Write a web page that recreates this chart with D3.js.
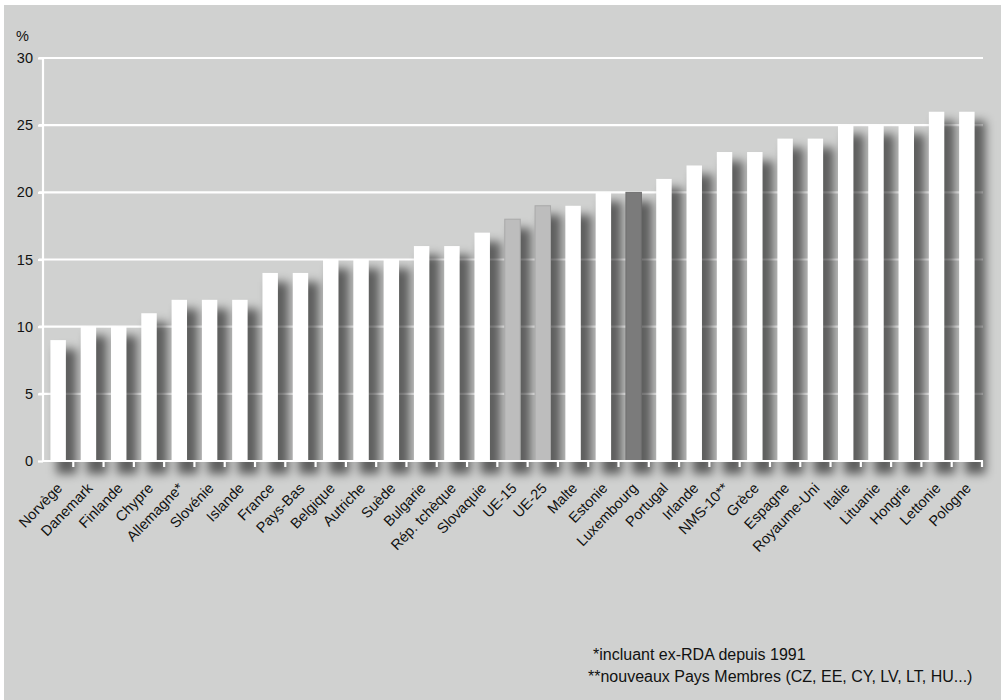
<!DOCTYPE html>
<html>
<head>
<meta charset="utf-8">
<script src="https://cdn.jsdelivr.net/npm/d3@7"></script>
<style>
  html, body { margin: 0; padding: 0; background: #ffffff; }
  svg { display: block; }
  text { font-family: "Liberation Sans", Arial, Helvetica, sans-serif; fill: #111; }
</style>
</head>
<body>
<svg id="chart" width="1001" height="700"></svg>
<script>
// Country / aggregate names along the x axis
const categories = [
  "Norvège", "Danemark", "Finlande", "Chypre", "Allemagne*", "Slovénie", "Islande",
  "France", "Pays-Bas", "Belgique", "Autriche", "Suède", "Bulgarie", "Rép. tchèque",
  "Slovaquie", "UE-15", "UE-25", "Malte", "Estonie", "Luxembourg", "Portugal",
  "Irlande", "NMS-10**", "Grèce", "Espagne", "Royaume-Uni", "Italie", "Lituanie",
  "Hongrie", "Lettonie", "Pologne"
];
// Share (%) per country
const values = [
  9, 10, 10, 11, 12, 12, 12,
  14, 14, 15, 15, 15, 16, 16,
  17, 18, 19, 19, 20, 20, 21,
  22, 23, 23, 24, 24, 25, 25,
  25, 26, 26
];
// Aggregates drawn in grey instead of white
const greyBars = ["UE-15", "UE-25"];
const darkBars = ["Luxembourg"];
const yTicks = [0, 5, 10, 15, 20, 25, 30];
const footnotes = [
  "*incluant ex-RDA depuis 1991",
  "**nouveaux Pays Membres (CZ, EE, CY, LV, LT, HU...)"
];

const svg = d3.select("#chart");
const W = 1001, H = 700;

// panel background
svg.append("rect").attr("x", 4).attr("y", 5).attr("width", W - 4).attr("height", H - 5)
  .attr("fill", "#d0d1d0");

const x = d3.scaleBand().domain(categories).range([43, 982])
  .paddingInner(0.49).paddingOuter(0.245);
const y = d3.scaleLinear().domain([0, 30]).range([461, 58]);

const defs = svg.append("defs");
const f = defs.append("filter").attr("id", "barShadow")
  .attr("filterUnits", "userSpaceOnUse")
  .attr("x", 0).attr("y", 0).attr("width", W).attr("height", H)
  .attr("color-interpolation-filters", "sRGB");
f.append("feGaussianBlur").attr("in", "SourceGraphic").attr("stdDeviation", 5);

// horizontal gridlines
svg.append("g").selectAll("line").data(yTicks.filter(d => d > 0)).join("line")
  .attr("x1", 39).attr("x2", 983)
  .attr("y1", d => y(d)).attr("y2", d => y(d))
  .attr("stroke", "#ffffff").attr("stroke-width", 2.2);

// soft drop shadow behind bars
svg.append("g").attr("filter", "url(#barShadow)")
  .selectAll("rect").data(categories).join("rect")
  .attr("x", d => x(d) + 6)
  .attr("y", (d, i) => y(values[i]) + 9)
  .attr("width", x.bandwidth() + 5)
  .attr("height", (d, i) => y(0) - y(values[i]) + 4)
  .attr("fill", "#000").attr("fill-opacity", 0.55);

// bars
svg.append("g").selectAll("rect").data(categories).join("rect")
  .attr("x", d => x(d))
  .attr("y", (d, i) => y(values[i]))
  .attr("width", x.bandwidth())
  .attr("height", (d, i) => y(0) - y(values[i]))
  .attr("fill", d => greyBars.includes(d) ? "#bdbdbd" : darkBars.includes(d) ? "#7b7b7b" : "#ffffff")
  .attr("stroke", d => greyBars.includes(d) ? "#a9a9a9" : darkBars.includes(d) ? "#6e6e6e" : "none")
  .attr("stroke-width", 1);

// y axis
const yAxis = svg.append("g").attr("transform", "translate(43,0)")
  .call(d3.axisLeft(y).tickValues(yTicks).tickSize(5).tickPadding(6));
yAxis.select(".domain").attr("stroke", "#fff").attr("stroke-width", 2.2)
  .attr("d", `M0,${y(30)}V${y(0) + 1}`);
yAxis.selectAll(".tick line").attr("stroke", "#fff").attr("stroke-width", 2.2);
yAxis.selectAll(".tick text").attr("font-size", 14.5).attr("fill", "#111")
  .attr("font-family", "Liberation Sans, Arial, sans-serif").attr("x", -10);

svg.append("text").attr("x", 16).attr("y", 41).attr("font-size", 14.5).text("%");

// x axis: ticks fall on the boundaries between bars
const xAxisG = svg.append("g");
xAxisG.append("line").attr("x1", 43).attr("x2", 983).attr("y1", y(0)).attr("y2", y(0))
  .attr("stroke", "#fff").attr("stroke-width", 2.2);
const half = x.step() * x.paddingInner() / 2;
const boundaries = categories.map(d => x(d) + x.bandwidth() + half);
xAxisG.selectAll("line.tk").data(boundaries).join("line").attr("class", "tk")
  .attr("x1", d => d).attr("x2", d => d)
  .attr("y1", y(0)).attr("y2", y(0) + 6)
  .attr("stroke", "#fff").attr("stroke-width", 2.2);

// rotated category labels
xAxisG.selectAll("text").data(categories).join("text")
  .attr("font-size", 14.5)
  .attr("text-anchor", "end")
  .attr("transform", d => `translate(${x(d) + x.bandwidth() / 2 + 5},${y(0) + 28}) rotate(-46)`)
  .text(d => d);

// footnotes
svg.append("g").selectAll("text").data(footnotes).join("text")
  .attr("x", (d, i) => i === 0 ? 593 : 588)
  .attr("y", (d, i) => 660 + i * 22)
  .attr("font-size", 16)
  .text(d => d);
</script>
</body>
</html>
